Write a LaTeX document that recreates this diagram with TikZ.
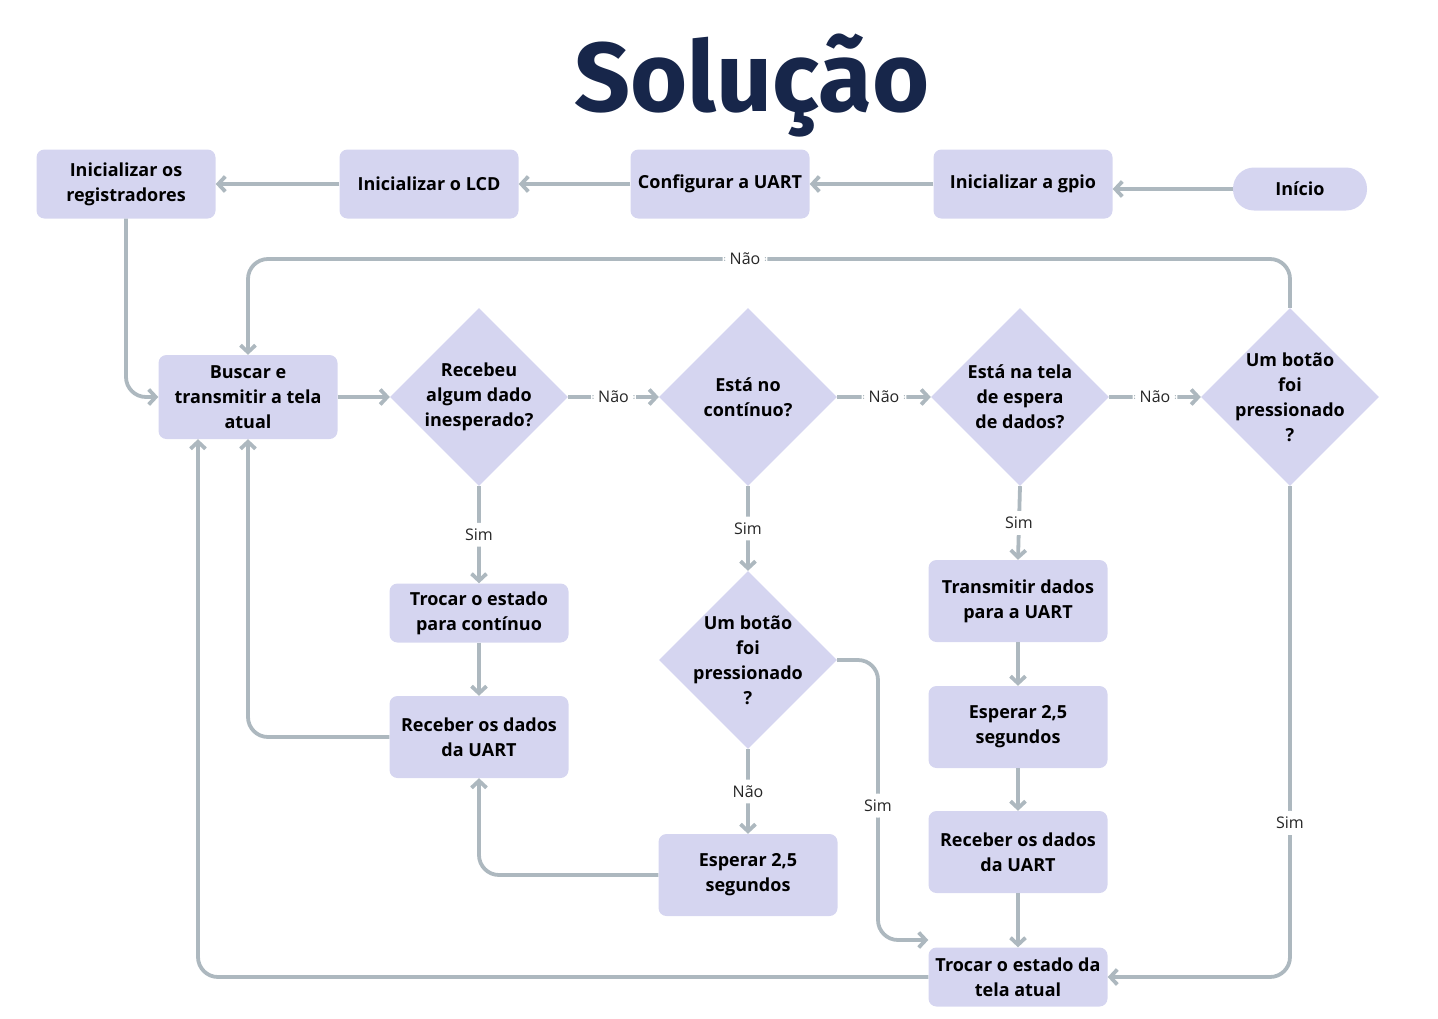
\documentclass[tikz,border=0pt]{standalone}
\usepackage{fontspec}
\setmainfont{Open Sans}
\newfontfamily\titlefont{Fira Sans}
\usetikzlibrary{arrows.meta,shapes.geometric,calc}
\definecolor{boxfill}{HTML}{D5D5F0}
\definecolor{linegray}{HTML}{ADB8BF}
\definecolor{titlecol}{HTML}{17264A}
\begin{document}
\begin{tikzpicture}[x=1pt,y=-1pt,
 box/.style={fill=boxfill, rounded corners=8pt, minimum width=179pt, align=center, font=\bfseries\fontsize{18}{25}\selectfont, inner sep=0pt, text=black},
 dia/.style={diamond, fill=boxfill, minimum width=178pt, minimum height=178pt, inner sep=0pt},
 diatext/.style={align=center, font=\bfseries\fontsize{18}{25}\selectfont, text=black},
 conn/.style={draw=linegray, line width=3.8pt, -{Straight Barb[length=7pt,width=15pt]}, rounded corners=20pt},
 lbl/.style={fill=white, font=\fontsize{16}{18}\selectfont, inner xsep=7pt, inner ysep=6pt, text=black!85},
]
\useasboundingbox (0,0) rectangle (1438,1018);
\node[text=titlecol, font=\titlefont\bfseries\fontsize{98}{100}\selectfont] (title) at (752,86) {Solução};

% top row
\node[box, minimum height=69pt] (reg) at (126,184) {Inicializar os\\registradores};
\node[box, minimum height=69pt] (lcd) at (429,184) {Inicializar o LCD};
\node[box, minimum height=69pt] (uart) at (720,184) {Configurar a UART};
\node[box, minimum height=69pt] (gpio) at (1023,184) {Inicializar a gpio};
\node[box, minimum height=43pt, minimum width=134pt, rounded corners=21pt] (inicio) at (1300,189) {Início};

% main row
\node[box, minimum height=84pt] (busca) at (248,397) {Buscar e\\transmitir a tela\\atual};
\node[dia] (d1) at (479,397) {};
\node[diatext] at (d1.center) {Recebeu\\algum dado\\inesperado?};
\node[dia] (d2) at (748,397) {};
\node[diatext] at (d2.center) {Está no\\contínuo?};
\node[dia] (d3) at (1020,397) {};
\node[diatext] at (d3.center) {Está na tela\\de espera\\de dados?};
\node[dia] (d4) at (1290,397) {};
\node[diatext] at (d4.center) {Um botão\\foi\\pressionado\\?};

% column 1
\node[box, minimum height=59pt] (troca1) at (479,613) {Trocar o estado\\para contínuo};
\node[box, minimum height=82pt] (recv1) at (479,737) {Receber os dados\\da UART};

% column 2
\node[dia] (d5) at (748,660) {};
\node[diatext] at (d5.center) {Um botão\\foi\\pressionado\\?};
\node[box, minimum height=82pt] (esp1) at (748,875) {Esperar 2,5\\segundos};

% column 3
\node[box, minimum height=82pt] (trans) at (1018,601) {Transmitir dados\\para a UART};
\node[box, minimum height=82pt] (esp2) at (1018,727) {Esperar 2,5\\segundos};
\node[box, minimum height=82pt] (recv2) at (1018,852) {Receber os dados\\da UART};
\node[box, minimum height=59pt] (troca2) at (1018,977) {Trocar o estado da\\tela atual};

% connectors top row
\draw[conn] (inicio.west) -- (inicio.west -| gpio.east);
\draw[conn] (gpio.west) -- (uart.east);
\draw[conn] (uart.west) -- (lcd.east);
\draw[conn] (lcd.west) -- (reg.east);
\draw[conn] (reg.south) |- (busca.west);

% main row
\draw[conn] (busca.east) -- (d1.west);
\draw[conn] (d1.east) -- node[lbl]{Não} (d2.west);
\draw[conn] (d2.east) -- node[lbl]{Não} (d3.west);
\draw[conn] (d3.east) -- node[lbl]{Não} (d4.west);
\draw[conn] (d4.north) -- (1290,259) -- node[lbl,pos=0.523]{Não} (248,259) -- (busca.north);

% column 1
\draw[conn] (d1.south) -- node[lbl]{Sim} (troca1.north);
\draw[conn] (troca1.south) -- (recv1.north);
\draw[conn] (recv1.west) -| (busca.south);

% column 2
\draw[conn] (d2.south) -- node[lbl]{Sim} (d5.north);
\draw[conn] (d5.south) -- node[lbl]{Não} (esp1.north);
\draw[conn] (esp1.west) -| (recv1.south);
\draw[conn] (d5.east) -- (878,660) -- node[lbl,pos=0.52]{Sim} (878,940) -- (troca2.west |- 0,940);

% column 3
\draw[conn] (d3.south) -- node[lbl]{Sim} (trans.north);
\draw[conn] (trans.south) -- (esp2.north);
\draw[conn] (esp2.south) -- (recv2.north);
\draw[conn] (recv2.south) -- (troca2.north);

% right column and return
\draw[conn] (d4.south) -- node[lbl,pos=0.686]{Sim} (d4.south |- troca2.east) -- (troca2.east);
\draw[conn] (troca2.west) -| ($(busca.south)+(-50,0)$);
\end{tikzpicture}
\end{document}
